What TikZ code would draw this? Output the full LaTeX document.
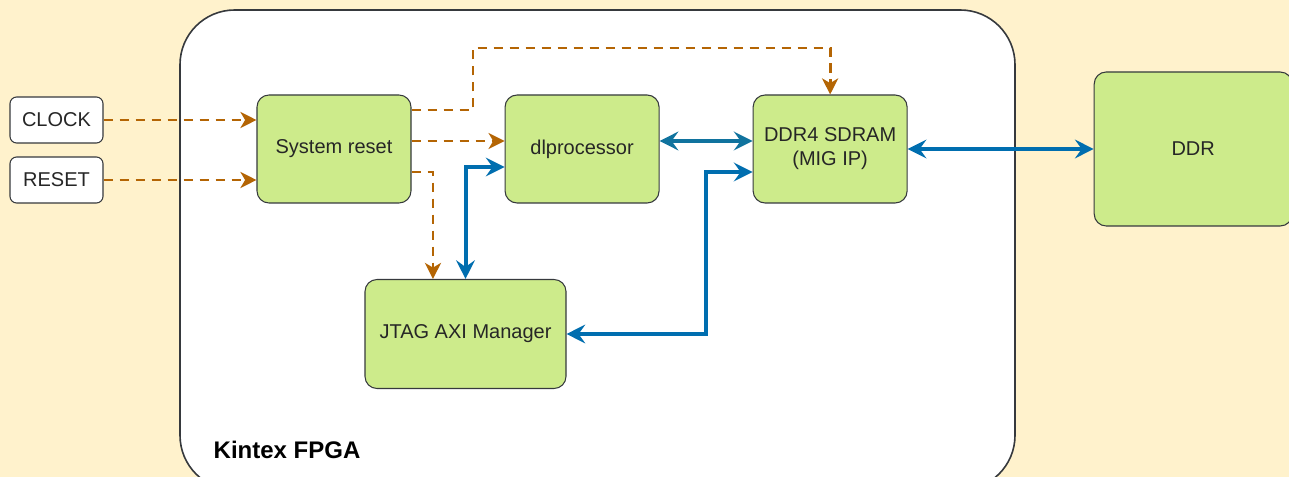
\documentclass[tikz,border=0pt]{standalone}
\usepackage{fontspec}
\setmainfont{Liberation Sans}
\usetikzlibrary{arrows.meta,positioning}

\definecolor{cream}{HTML}{FFF2CC}
\definecolor{leaf}{HTML}{CDEB8B}
\definecolor{edge}{HTML}{36393D}
\definecolor{rust}{HTML}{B46504}
\definecolor{busblue}{HTML}{006EAF}
\definecolor{busteal}{HTML}{10739E}

\begin{document}
\begin{tikzpicture}[x=0.75pt, y=-0.75pt, node distance=69.75pt,
    block/.style={rectangle, rounded corners=9pt, draw=edge, line width=0.8pt, fill=leaf,
      minimum width=115.5pt, minimum height=81pt, align=center, text=black!85,
      font=\fontsize{15}{18}\selectfont},
    iobox/.style={rectangle, rounded corners=5pt, draw=edge, line width=0.8pt, fill=white,
      minimum width=69.75pt, minimum height=34.5pt, text=black!85,
      font=\fontsize{15}{18}\selectfont},
    ctrl/.style={draw=rust, line width=2.1pt, dash pattern=on 7pt off 5pt,
      -{Stealth[length=12pt, width=12pt, inset=3.5pt, fill=rust]}},
    bus/.style={draw=busblue, line width=3pt,
      {Stealth[length=14pt, width=14pt, inset=5pt]}-{Stealth[length=14pt, width=14pt, inset=5pt]}}]

    % Background and FPGA outline
    \fill[cream] (0,0) rectangle (1289,477);
    \useasboundingbox (0,0) rectangle (1289,477);
    \draw[edge, line width=1.2pt, fill=white, rounded corners=41pt] (180,10) rectangle (1015,490);
    \node[anchor=west, text=black, font=\bfseries\fontsize{18}{22}\selectfont] (fpgalabel) at (209,450) {Kintex FPGA};

    % Nodes
    \node[iobox] (clock) at (56.5,120) {CLOCK};
    \node[iobox] (reset) at (56.5,180) {RESET};
    \node[block] (sysreset) at (334,149) {System reset};
    \node[block, right=of sysreset] (dlproc) {dlprocessor};
    \node[block, right=of dlproc] (ddr4) {DDR4 SDRAM\\(MIG IP)};
    \node[block, minimum width=148.5pt, minimum height=115.5pt, right=139.5pt of ddr4] (ddr) {DDR};
    \node[block, minimum width=150.75pt, minimum height=81.75pt] (jtag) at (465.5,334) {JTAG AXI Manager};

    \coordinate (topbend) at (473,48);
    \coordinate (busbend) at (706,172);

    % Reset and clock lines
    \draw[ctrl] (clock.east) -- (clock.east -| sysreset.west);
    \draw[ctrl] (reset.east) -- (reset.east -| sysreset.west);
    \draw[ctrl] ([yshift=6pt]sysreset.east) -- ([yshift=6pt]dlproc.west);
    \draw[ctrl] ([yshift=29.25pt]sysreset.east) -| (topbend) -| (ddr4.north);
    \draw[ctrl] ([yshift=-17.25pt]sysreset.east) -| ([xshift=-24.4pt]jtag.north);

    % AXI buses
    \draw[bus, draw=busteal, color=busteal] ([yshift=6pt]dlproc.east) -- ([yshift=6pt]ddr4.west);
    \draw[bus] (jtag.north) |- ([yshift=-13.5pt]dlproc.west);
    \draw[bus] (jtag.east) -| (busbend) -- ([yshift=-17.25pt]ddr4.west);
    \draw[bus] (ddr4.east) -- (ddr.west);
\end{tikzpicture}
\end{document}
